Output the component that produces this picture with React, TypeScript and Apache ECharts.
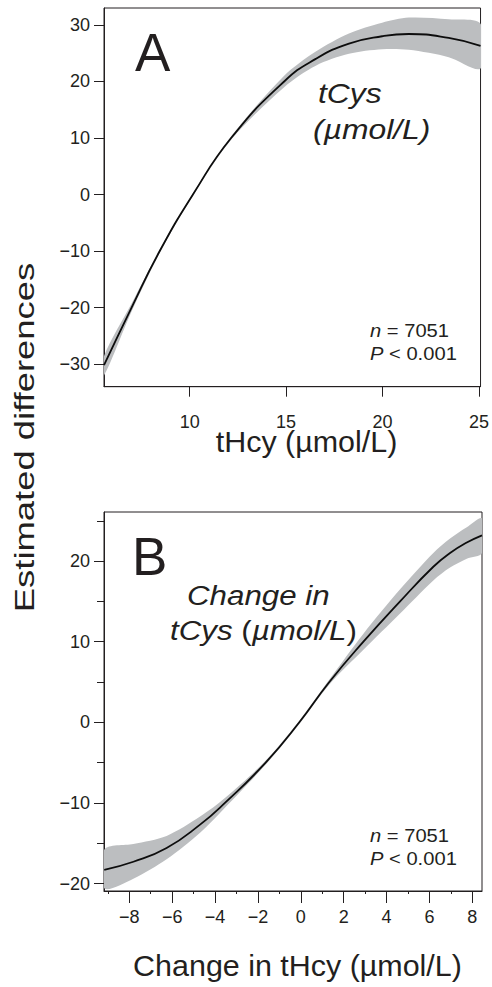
import React, { useEffect, useRef } from 'react';
import * as echarts from 'echarts';

const FONT = "'Liberation Sans', Arial, Helvetica, sans-serif";
const INK = '#231f20';
const BAND = '#bcbec0';

// ---- Panel A: tCys vs tHcy ----
const xA = [5.56, 6.99, 8.45, 10.17, 12.15, 14.9, 16.54, 18.26, 19.98, 21.36, 23.43, 25.08];
const fitA = [-30.2, -20.0, -10.0, 0.0, 10.0, 20.0, 24.0, 26.7, 28.0, 28.4, 27.7, 26.3];
const lowA = [-32.0, -20.7, -10.3, -0.2, 9.7, 19.0, 22.8, 24.9, 25.7, 25.6, 24.3, 22.3];
const upA = [-28.6, -19.3, -9.7, 0.2, 10.3, 21.0, 25.3, 28.5, 30.4, 31.3, 31.0, 30.2];
const xTicksA = [10, 15, 20, 25];
const yTicksA = [-30, -20, -10, 0, 10, 20, 30];

// ---- Panel B: change in tCys vs change in tHcy ----
const xB = [-9.17, -7.81, -6.26, -4.7, -3.54, -1.64, -0.07, 1.33, 2.92, 4.63, 6.18, 6.96, 7.74, 8.45];
const fitB = [-18.3, -17.3, -15.6, -12.7, -10.0, -5.0, 0.0, 5.0, 10.0, 15.0, 19.3, 21.0, 22.3, 23.2];
const lowB = [-20.6, -19.4, -17.0, -13.7, -10.6, -5.25, -0.2, 4.7, 9.0, 13.5, 17.6, 19.2, 20.3, 21.0];
const upB = [-15.8, -15.1, -14.1, -11.7, -9.4, -4.75, 0.2, 5.3, 11.0, 16.5, 21.0, 22.8, 24.2, 25.3];
const xTicksB = [-8, -6, -4, -2, 0, 2, 4, 6, 8];
const xMinorB = [-9, -7, -5, -3, -1, 1, 3, 5, 7];
const yTicksB = [-20, -10, 0, 10, 20];
const yMinorB = [-15, -5, 5, 15, 25];

const fmt = (v: number) => (v < 0 ? '\u2212' + Math.abs(v) : String(v));

const labelStyle = { color: INK, fontSize: 18, fontFamily: FONT };

const bandSeries = (xs: number[], lo: number[], hi: number[], axisIdx: number) => ({
  type: 'custom',
  xAxisIndex: axisIdx,
  yAxisIndex: axisIdx,
  silent: true,
  clip: true,
  data: [[xs[0], lo[0]]],
  renderItem: (_params: any, api: any) => {
    const top = xs.map((x, i) => api.coord([x, hi[i]]));
    const bot = xs.map((x, i) => api.coord([x, lo[i]])).reverse();
    return {
      type: 'polygon',
      shape: { points: top.concat(bot), smooth: 0.3 },
      style: { fill: BAND, stroke: 'none' },
    };
  },
  z: 2,
});

const lineSeries = (xs: number[], ys: number[], axisIdx: number) => ({
  type: 'line',
  xAxisIndex: axisIdx,
  yAxisIndex: axisIdx,
  data: xs.map((x, i) => [x, ys[i]]),
  symbol: 'none',
  showSymbol: false,
  smooth: 0.5,
  silent: true,
  lineStyle: { color: '#0d0d0d', width: 1.8 },
  z: 3,
});

const txt = (
  text: string,
  x: number,
  y: number,
  size: number,
  opts: { italic?: boolean; align?: string; scaleX?: number; rotation?: number; rich?: any } = {}
) => ({
  type: 'text',
  x,
  y,
  scaleX: opts.scaleX ?? 1,
  rotation: opts.rotation ?? 0,
  silent: true,
  style: {
    text,
    font: `${opts.italic ? 'italic ' : ''}${size}px ${FONT}`,
    fill: INK,
    align: opts.align ?? 'left',
    verticalAlign: 'middle',
    textAlign: opts.align ?? 'left',
    textVerticalAlign: 'middle',
    rich: opts.rich,
  },
});

const italicRich = (size: number) => ({
  i: { font: `italic ${size}px ${FONT}`, fill: INK },
  n: { font: `${size}px ${FONT}`, fill: INK },
});

export default function App() {
  const ref = useRef<HTMLDivElement>(null);

  useEffect(() => {
    if (!ref.current) return;
    const chart = echarts.init(ref.current, undefined, { renderer: 'svg' });

    const axisLine = { show: true, onZero: false, lineStyle: { color: INK, width: 1 } };

    const option: any = {
      animation: false,
      backgroundColor: '#ffffff',
      grid: [
        { left: 104, top: 8, width: 378, height: 378.7, show: true, borderColor: INK, borderWidth: 1, backgroundColor: 'transparent' },
        { left: 104, top: 512, width: 378, height: 379, show: true, borderColor: INK, borderWidth: 1, backgroundColor: 'transparent' },
      ],
      xAxis: [
        {
          type: 'value', gridIndex: 0, position: 'bottom', min: 5.56, max: 25.08,
          axisLine,
          axisTick: { show: true, length: 10, customValues: xTicksA, lineStyle: { color: INK } },
          axisLabel: { ...labelStyle, customValues: xTicksA, margin: 35, verticalAlign: 'middle', formatter: fmt },
          splitLine: { show: false },
        },
        {
          type: 'value', gridIndex: 1, position: 'bottom', min: -9.18, max: 8.45,
          axisLine,
          axisTick: { show: true, length: 12, customValues: xTicksB, lineStyle: { color: INK } },
          axisLabel: { ...labelStyle, customValues: xTicksB, margin: 26, verticalAlign: 'middle', formatter: fmt },
          splitLine: { show: false },
        },
        {
          type: 'value', gridIndex: 1, position: 'bottom', offset: 0, min: -9.18, max: 8.45,
          axisLine: { show: false, onZero: false },
          axisTick: { show: true, length: 3, customValues: xMinorB, lineStyle: { color: INK } },
          axisLabel: { show: false },
          splitLine: { show: false },
        },
      ],
      yAxis: [
        {
          type: 'value', gridIndex: 0, position: 'left', min: -34, max: 33,
          axisLine,
          axisTick: { show: true, length: 10, customValues: yTicksA, lineStyle: { color: INK } },
          axisLabel: { ...labelStyle, customValues: yTicksA, margin: 14, formatter: fmt },
          splitLine: { show: false },
        },
        {
          type: 'value', gridIndex: 1, position: 'left', min: -20.93, max: 26.09,
          axisLine,
          axisTick: { show: true, length: 10, customValues: yTicksB, lineStyle: { color: INK } },
          axisLabel: { ...labelStyle, customValues: yTicksB, margin: 14, formatter: fmt },
          splitLine: { show: false },
        },
        {
          type: 'value', gridIndex: 1, position: 'left', offset: 0, min: -20.93, max: 26.09,
          axisLine: { show: false, onZero: false },
          axisTick: { show: true, length: 7, customValues: yMinorB, lineStyle: { color: INK } },
          axisLabel: { show: false },
          splitLine: { show: false },
        },
      ],
      series: [
        bandSeries(xA, lowA, upA, 0),
        lineSeries(xA, fitA, 0),
        bandSeries(xB, lowB, upB, 1),
        lineSeries(xB, fitB, 1),
      ],
      graphic: [
        txt('Estimated differences', 25, 437.5, 28, { align: 'center', rotation: Math.PI / 2, scaleX: 1.3 }),
        // Panel A
        txt('A', 135, 52, 53),
        txt('tCys', 318, 93, 27, { italic: true, scaleX: 1.18 }),
        txt('(\u00b5mol/L)', 313, 129, 27, { italic: true, scaleX: 1.18 }),
        txt('{i|n} = 7051', 370, 331, 18, { scaleX: 1.12, rich: italicRich(18) }),
        txt('{i|P} < 0.001', 370, 354, 18, { scaleX: 1.12, rich: italicRich(18) }),
        txt('tHcy (\u00b5mol/L)', 306.5, 442, 29, { align: 'center', scaleX: 1.05 }),
        // Panel B
        txt('B', 132, 556, 53),
        txt('Change in', 187, 596, 27, { italic: true, scaleX: 1.16 }),
        txt('{i|tCys} {n|(}{i|\u00b5mol/L}{n|)}', 170, 631, 27, { scaleX: 1.16, rich: italicRich(27) }),
        txt('{i|n} = 7051', 370, 836, 18, { scaleX: 1.12, rich: italicRich(18) }),
        txt('{i|P} < 0.001', 370, 859, 18, { scaleX: 1.12, rich: italicRich(18) }),
        txt('Change in tHcy (\u00b5mol/L)', 297.5, 966, 29, { align: 'center', scaleX: 1.05 }),
      ],
    };

    chart.setOption(option);
    return () => chart.dispose();
  }, []);

  return (
    <div
      ref={ref}
      style={{ position: 'fixed', left: 0, top: 0, width: 492, height: 987, background: '#fff' }}
    />
  );
}
